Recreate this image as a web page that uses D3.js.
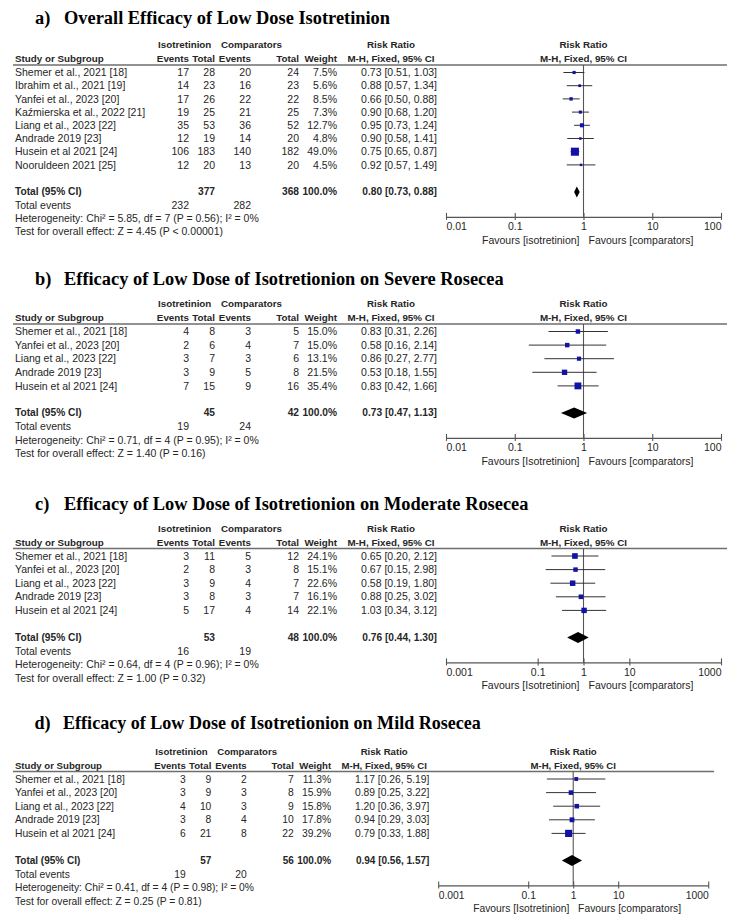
<!DOCTYPE html>
<html><head><meta charset="utf-8">
<script src="https://cdn.jsdelivr.net/npm/d3@7"></script>
<style>
body{margin:0;background:#fff}
text{font-family:"Liberation Sans",Arial,sans-serif}
</style>
</head><body>
<svg id="chart" width="750" height="922"></svg>
<script>
// ---------- Panel a ----------
const titleA = "Overall Efficacy of Low Dose Isotretinion";
const studiesA = ["Shemer et al., 2021 [18]","Ibrahim et al., 2021 [19]","Yanfei et al., 2023 [20]","Kaźmierska et al., 2022 [21]","Liang et al., 2023 [22]","Andrade 2019 [23]","Husein et al 2021 [24]","Nooruldeen 2021 [25]"];
const isoEventsA = [17,14,17,19,35,12,106,12];
const isoTotalA = [28,23,26,25,53,19,183,20];
const compEventsA = [20,16,22,21,36,14,140,13];
const compTotalA = [24,23,22,25,52,20,182,20];
const weightA = [7.5,5.6,8.5,7.3,12.7,4.8,49.0,4.5];
const rrA = [0.73,0.88,0.66,0.90,0.95,0.90,0.75,0.92];
const lowA = [0.51,0.57,0.50,0.68,0.73,0.58,0.65,0.57];
const highA = [1.03,1.34,0.88,1.20,1.24,1.41,0.87,1.49];
const totalA = {iso:377, comp:368, ev1:232, ev2:282, rr:0.80, lo:0.73, hi:0.88};
const hetA = "Heterogeneity: Chi² = 5.85, df = 7 (P = 0.56); I² = 0%";
const testA = "Test for overall effect: Z = 4.45 (P < 0.00001)";

// ---------- Panel b ----------
const titleB = "Efficacy of Low Dose of Isotretionion on Severe Rosecea";
const studiesB = ["Shemer et al., 2021 [18]","Yanfei et al., 2023 [20]","Liang et al., 2023 [22]","Andrade 2019 [23]","Husein et al 2021 [24]"];
const isoEventsB = [4,2,3,3,7];
const isoTotalB = [8,6,7,9,15];
const compEventsB = [3,4,3,5,9];
const compTotalB = [5,7,6,8,16];
const weightB = [15.0,15.0,13.1,21.5,35.4];
const rrB = [0.83,0.58,0.86,0.53,0.83];
const lowB = [0.31,0.16,0.27,0.18,0.42];
const highB = [2.26,2.14,2.77,1.55,1.66];
const totalB = {iso:45, comp:42, ev1:19, ev2:24, rr:0.73, lo:0.47, hi:1.13};
const hetB = "Heterogeneity: Chi² = 0.71, df = 4 (P = 0.95); I² = 0%";
const testB = "Test for overall effect: Z = 1.40 (P = 0.16)";

// ---------- Panel c ----------
const titleC = "Efficacy of Low Dose of Isotretionion on Moderate Rosecea";
const studiesC = studiesB;
const isoEventsC = [3,2,3,3,5];
const isoTotalC = [11,8,9,8,17];
const compEventsC = [5,3,4,3,4];
const compTotalC = [12,8,7,7,14];
const weightC = [24.1,15.1,22.6,16.1,22.1];
const rrC = [0.65,0.67,0.58,0.88,1.03];
const lowC = [0.20,0.15,0.19,0.25,0.34];
const highC = [2.12,2.98,1.80,3.02,3.12];
const totalC = {iso:53, comp:48, ev1:16, ev2:19, rr:0.76, lo:0.44, hi:1.30};
const hetC = "Heterogeneity: Chi² = 0.64, df = 4 (P = 0.96); I² = 0%";
const testC = "Test for overall effect: Z = 1.00 (P = 0.32)";

// ---------- Panel d ----------
const titleD = "Efficacy of Low Dose of Isotretionion on Mild Rosecea";
const studiesD = studiesB;
const isoEventsD = [3,3,4,3,6];
const isoTotalD = [9,9,10,8,21];
const compEventsD = [2,3,3,4,8];
const compTotalD = [7,8,9,10,22];
const weightD = [11.3,15.9,15.8,17.8,39.2];
const rrD = [1.17,0.89,1.20,0.94,0.79];
const lowD = [0.26,0.25,0.36,0.29,0.33];
const highD = [5.19,3.22,3.97,3.03,1.88];
const totalD = {iso:57, comp:56, ev1:19, ev2:20, rr:0.94, lo:0.56, hi:1.57};
const hetD = "Heterogeneity: Chi² = 0.41, df = 4 (P = 0.98); I² = 0%";
const testD = "Test for overall effect: Z = 0.25 (P = 0.81)";

// ---------- Axis ticks ----------
const ticksAB = [0.01,0.1,1,10,100];
const tickLabelsAB = ["0.01","0.1","1","10","100"];
const ticksCD = [0.001,0.1,1,10,1000];
const tickLabelsCD = ["0.001","0.1","1","10","1000"];

const panels = [
  {letter:"a)", title:titleA, studies:studiesA, e1:isoEventsA, t1:isoTotalA, e2:compEventsA, t2:compTotalA, w:weightA, rr:rrA, lo:lowA, hi:highA, tot:totalA, het:hetA, test:testA, ticks:ticksAB, tickLabels:tickLabelsAB, fav:"Favours [isotretinion]", T:18, H:45, row:13.2, k:1},
  {letter:"b)", title:titleB, studies:studiesB, e1:isoEventsB, t1:isoTotalB, e2:compEventsB, t2:compTotalB, w:weightB, rr:rrB, lo:lowB, hi:highB, tot:totalB, het:hetB, test:testB, ticks:ticksAB, tickLabels:tickLabelsAB, fav:"Favours [Isotretinion]", T:279, H:304, row:13.6, k:1},
  {letter:"c)", title:titleC, studies:studiesC, e1:isoEventsC, t1:isoTotalC, e2:compEventsC, t2:compTotalC, w:weightC, rr:rrC, lo:lowC, hi:highC, tot:totalC, het:hetC, test:testC, ticks:ticksCD, tickLabels:tickLabelsCD, fav:"Favours [Isotretinion]", T:504, H:528.5, row:13.6, k:1},
  {letter:"d)", title:titleD, studies:studiesD, e1:isoEventsD, t1:isoTotalD, e2:compEventsD, t2:compTotalD, w:weightD, rr:rrD, lo:lowD, hi:highD, tot:totalD, het:hetD, test:testD, ticks:ticksCD, tickLabels:tickLabelsCD, fav:"Favours [Isotretinion]", T:723, H:751.5, row:13.6, k:0.982}
];

const svg = d3.select("#chart");
const FS = 10.5;     // regular text
const FSB = 9.8;     // bold header text
const FST = 10.2;    // bold total row
const TXT = "#262626";
const col = {study:15, e1:189, t1:215, e2:251, t2:299, w:337, rr:437, grp1:158, grp2:221, rrC:391};

function fmtRR(r,l,h){ return `${r.toFixed(2)} [${l.toFixed(2)}, ${h.toFixed(2)}]`; }

panels.forEach(p => {
  const g = svg.append("g")
    .attr("transform", `translate(12,0) scale(${p.k},1) translate(-12,0)`);
  const H = p.H;
  const n = p.studies.length;
  const rowY = i => H + 27.5 + i*p.row;
  const totY = rowY(n-1) + 27;
  const axisY = totY + 25;

  const x = d3.scaleLog().domain([p.ticks[0], p.ticks[p.ticks.length-1]]).range([446, 721]);

  // title
  const tf = "'Liberation Serif','Times New Roman',serif";
  g.append("text").attr("x",35).attr("y",p.T).attr("dy","0.35em")
    .style("font-family",tf).style("font-weight","bold")
    .style("font-size","18.4px").attr("fill","#000").text(p.letter);
  g.append("text").attr("x",64).attr("y",p.T).attr("dy","0.35em")
    .style("font-family",tf).style("font-weight","bold")
    .style("font-size","18.4px").attr("fill","#000").text(p.title);

  const t = (xx, yy, str, anchor="start", size=FS, bold=false) =>
    g.append("text").attr("x",xx).attr("y",yy).attr("dy","0.35em")
      .attr("text-anchor",anchor).style("font-size",size+"px")
      .style("font-weight", bold?"bold":"normal").attr("fill",TXT).text(str);

  // headers
  t(col.grp1, H, "Isotretinion", "start", FSB, true);
  t(col.grp2, H, "Comparators", "start", FSB, true);
  t(col.rrC, H, "Risk Ratio", "middle", FSB, true);
  t(x(1), H, "Risk Ratio", "middle", FSB, true);
  const H2 = H + 14;
  t(col.study, H2, "Study or Subgroup", "start", FSB, true);
  t(col.e1, H2, "Events", "end", FSB, true);
  t(col.t1, H2, "Total", "end", FSB, true);
  t(col.e2, H2, "Events", "end", FSB, true);
  t(col.t2, H2, "Total", "end", FSB, true);
  t(col.w, H2, "Weight", "end", FSB, true);
  t(col.rrC, H2, "M-H, Fixed, 95% CI", "middle", FSB, true);
  t(x(1), H2, "M-H, Fixed, 95% CI", "middle", FSB, true);

  g.append("line").attr("x1",13).attr("x2",727).attr("y1",H+20).attr("y2",H+20)
    .attr("stroke","#6e6e6e").attr("stroke-width",1.6);

  // vertical line of no effect
  g.append("line").attr("x1",x(1)).attr("x2",x(1)).attr("y1",H+20).attr("y2",axisY)
    .attr("stroke","#555").attr("stroke-width",1.1);

  // study rows
  p.studies.forEach((s,i) => {
    const y = rowY(i);
    t(col.study, y, s);
    t(col.e1, y, p.e1[i], "end");
    t(col.t1, y, p.t1[i], "end");
    t(col.e2, y, p.e2[i], "end");
    t(col.t2, y, p.t2[i], "end");
    t(col.w, y, p.w[i].toFixed(1)+"%", "end");
    t(col.rr, y, fmtRR(p.rr[i],p.lo[i],p.hi[i]), "end");
    g.append("line").attr("x1",x(p.lo[i])).attr("x2",x(p.hi[i])).attr("y1",y).attr("y2",y)
      .attr("stroke","#333").attr("stroke-width",1);
    const side = Math.max(2.4, 1.15*Math.sqrt(p.w[i]));
    g.append("rect").attr("x",x(p.rr[i])-side/2).attr("y",y-side/2)
      .attr("width",side).attr("height",side).attr("fill","#1212a6");
  });

  // total rows
  t(col.study, totY, "Total (95% CI)", "start", FST, true);
  t(col.t1, totY, p.tot.iso, "end", FST, true);
  t(col.t2, totY, p.tot.comp, "end", FST, true);
  t(col.w, totY, "100.0%", "end", FST, true);
  t(col.rr, totY, fmtRR(p.tot.rr,p.tot.lo,p.tot.hi), "end", FST, true);
  const dh = 5.5;
  g.append("path").attr("d",
    `M${x(p.tot.lo)},${totY} L${x(p.tot.rr)},${totY-dh} L${x(p.tot.hi)},${totY} L${x(p.tot.rr)},${totY+dh} Z`)
    .attr("fill","#000");
  t(col.study, totY+p.row, "Total events");
  t(col.e1, totY+p.row, p.tot.ev1, "end");
  t(col.e2, totY+p.row, p.tot.ev2, "end");
  t(col.study, totY+2*p.row, p.het);
  t(col.study, totY+3*p.row, p.test);

  // axis
  const ax = g.append("g").attr("transform",`translate(0,${axisY})`)
    .call(d3.axisBottom(x).tickValues(p.ticks).tickFormat((d,i)=>p.tickLabels[i]).tickSizeInner(3).tickSizeOuter(0));
  ax.select(".domain").attr("stroke","#555").attr("stroke-width",1.1);
  ax.selectAll(".tick line").attr("y1",-4).attr("y2",3).attr("stroke","#555").attr("stroke-width",1.1);
  ax.selectAll(".tick text").attr("y",6).attr("dy","0.71em")
    .style("font-size",FS+"px").style("font-family","'Liberation Sans',Arial,sans-serif").attr("fill",TXT)
    .attr("text-anchor",(d,i)=> i===0?"start":(i===p.ticks.length-1?"end":"middle"));
  t(x(1)-4, axisY+23, p.fav, "end");
  t(x(1)+5, axisY+23, "Favours [comparators]", "start");
});
</script>
</body></html>
